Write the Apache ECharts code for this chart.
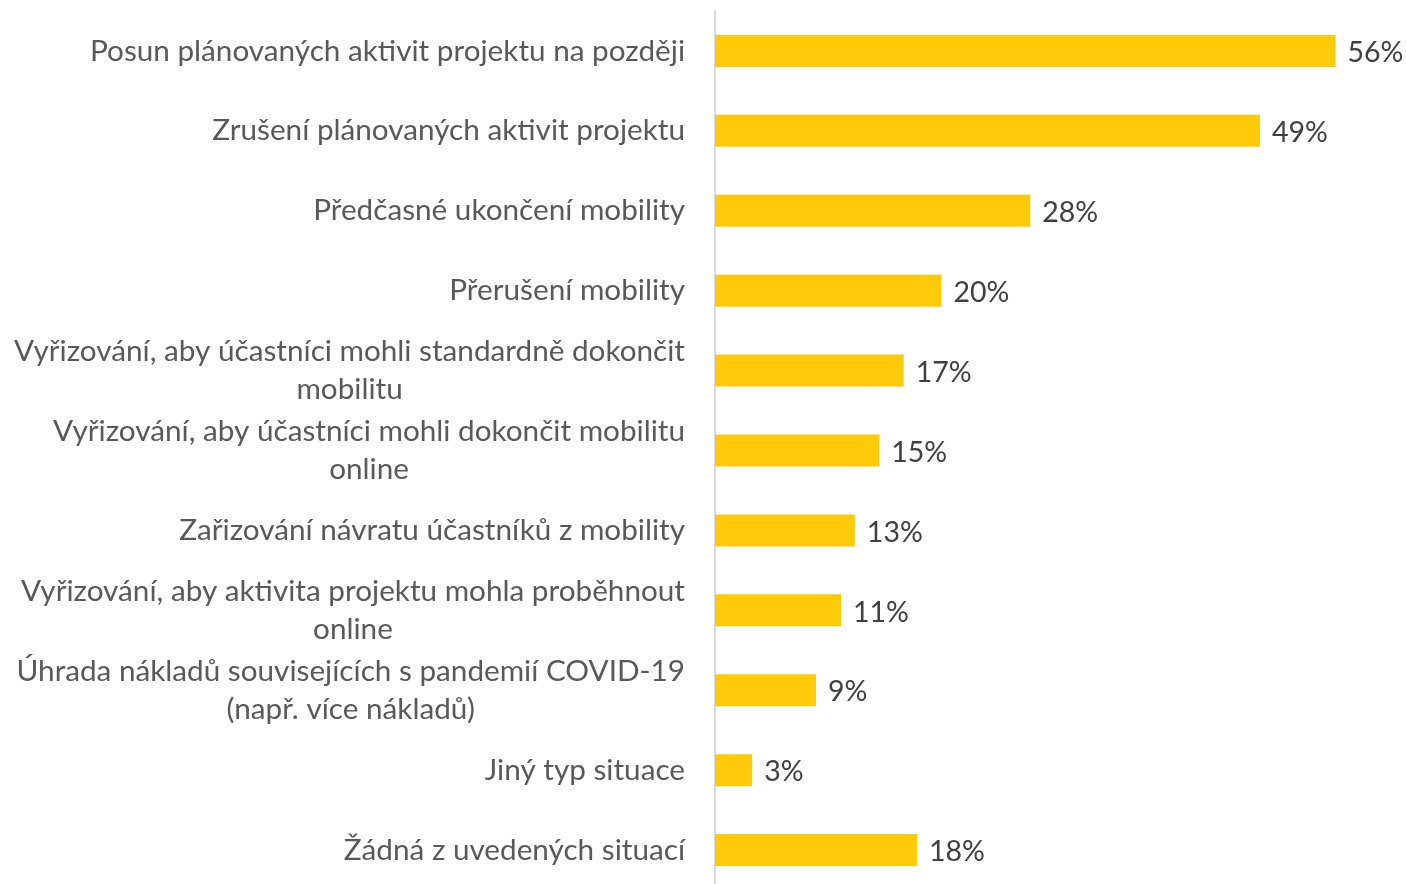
<!DOCTYPE html>
<html>
<head>
<meta charset="utf-8">
<script src="https://cdn.jsdelivr.net/npm/echarts@6/dist/echarts.min.js"></script>
<style>
  html, body { margin: 0; padding: 0; background: #ffffff; overflow: hidden; }
  #chart { width: 1406px; height: 896px; }
</style>
</head>
<body>
<div id="chart"></div>
<script>
// Categories, top to bottom (multi-line labels use \n)
const categories = [
  'Posun plánovaných aktivit projektu na později',
  'Zrušení plánovaných aktivit projektu',
  'Předčasné ukončení mobility',
  'Přerušení mobility',
  'Vyřizování, aby účastníci mohli standardně dokončit\nmobilitu',
  'Vyřizování, aby účastníci mohli dokončit mobilitu\nonline',
  'Zařizování návratu účastníků z mobility',
  'Vyřizování, aby aktivita projektu mohla proběhnout\nonline',
  'Úhrada nákladů souvisejících s pandemií COVID-19\n(např. více nákladů)',
  'Jiný typ situace',
  'Žádná z uvedených situací'
];
// Share of respondents (%)
const values = [55.9, 49.1, 28.4, 20.4, 17.0, 14.8, 12.6, 11.35, 9.1, 3.35, 18.2];

const FONT = 'Lato';
const FS = 29.7;
const VFS = 28.5;
const LH = 38;

const chart = echarts.init(document.getElementById('chart'), null, { renderer: 'canvas' });

chart.setOption({
  animation: false,
  backgroundColor: '#ffffff',
  grid: { left: 715, right: 25, top: 11, bottom: 6, containLabel: false },
  xAxis: {
    type: 'value',
    min: 0,
    max: 60,
    show: false
  },
  yAxis: {
    type: 'category',
    inverse: true,
    data: categories,
    axisLine: { show: true, lineStyle: { color: '#d9d9d9', width: 2 } },
    axisTick: { show: false },
    splitLine: { show: false },
    axisLabel: {
      margin: 30,
      align: 'right',
      fontFamily: FONT,
      fontSize: FS,
      lineHeight: LH,
      color: '#595959',
      formatter: function (v) {
        return v.split('\n').map(function (s) { return '{c|' + s + '}'; }).join('\n');
      },
      rich: {
        c: { align: 'center', fontFamily: FONT, fontSize: FS, lineHeight: LH, color: '#595959' }
      }
    }
  },
  series: [{
    type: 'bar',
    data: values,
    barWidth: 32,
    itemStyle: { color: '#FFCA08' },
    label: {
      show: true,
      position: 'right',
      distance: 12,
      offset: [0, 2],
      fontFamily: FONT,
      fontSize: VFS,
      color: '#404040',
      formatter: function (p) { return Math.round(p.value) + '%'; }
    }
  }]
});
</script>
</body>
</html>
